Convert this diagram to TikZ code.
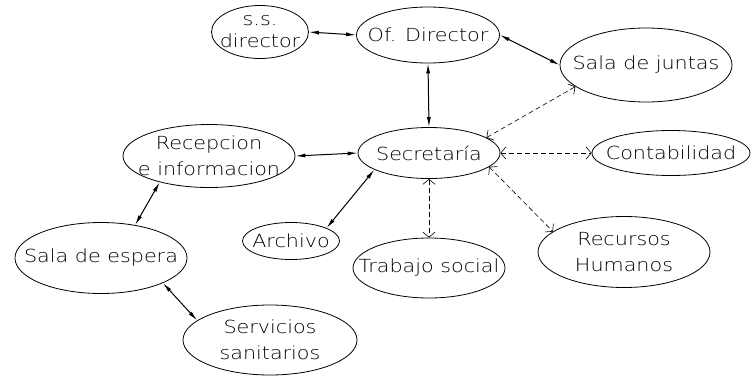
\documentclass[tikz,border=0pt]{standalone}
\usepackage{fontspec}
\setmainfont{DejaVu Sans ExtraLight}[FakeStretch=1.15]
\usetikzlibrary{arrows.meta, shapes.geometric}

\begin{document}
\begin{tikzpicture}[x=1pt, y=-1pt,
  room/.style={ellipse, draw, line width=0.8pt, inner sep=-40pt, align=center,
               font=\fontsize{18}{26}\selectfont},
  link/.style={<->, >={Latex[length=10pt,width=4pt]}, line width=1pt},
  dlink/.style={<->, >={Straight Barb[length=5pt,width=12pt]}, line width=0.6pt,
                dash pattern=on 5pt off 3pt}]
  \useasboundingbox (0,0) rectangle (752,378);
  % rooms
  \node[room, minimum width=97, minimum height=53, font=\fontsize{18}{22}\selectfont] (ssdir) at (260,32) {s.s.\\director};
  \node[room, minimum width=143, minimum height=56] (ofdir) at (428,35) {Of. Director};
  \node[room, minimum width=172, minimum height=74] (juntas) at (646,65) {Sala de juntas};
  \node[room, minimum width=142, minimum height=51] (secre) at (429,153) {Secretaría};
  \node[room, minimum width=158, minimum height=45] (conta) at (671,153) {Contabilidad};
  \node[room, minimum width=172, minimum height=71] (rrhh) at (624,252) {Recursos\\Humanos};
  \node[room, minimum width=152, minimum height=60] (trabajo) at (429,268) {Trabajo social};
  \node[room, minimum width=97, minimum height=37] (archivo) at (291,241) {Archivo};
  \node[room, minimum width=172, minimum height=63] (recep) at (209,156) {Recepcion\\e informacion};
  \node[room, minimum width=172, minimum height=71] (espera) at (101,258) {Sala de espera};
  \node[room, minimum width=174, minimum height=70] (sanit) at (270,340) {Servicios\\sanitarios};
  % solid links
  \draw[link] (ssdir.east) -- (ofdir.west);
  \draw[link] (ofdir.east) -- (juntas.west);
  \draw[link] (ofdir.south) -- (secre.north);
  \draw[link] (recep.east) -- (secre.west);
  \draw[link] (secre.197) -- (archivo.20);
  \draw[link] (recep.208) -- (espera.44);
  \draw[link] (espera.-22) -- (sanit.165);
  % dashed links
  \draw[dlink] (secre.15) -- (juntas.197);
  \draw[dlink] (secre.east) -- (conta.west);
  \draw[dlink] (secre.-13) -- (rrhh.164);
  \draw[dlink] (secre.south) -- (trabajo.north);
\end{tikzpicture}
\end{document}
